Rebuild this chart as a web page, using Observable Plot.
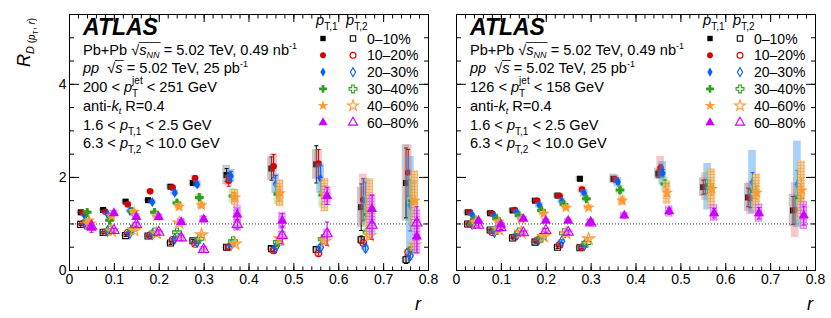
<!DOCTYPE html>
<html><head><meta charset="utf-8">
<script src="https://cdn.jsdelivr.net/npm/d3@7"></script>
<script src="https://cdn.jsdelivr.net/npm/@observablehq/plot@0.6"></script>
<style>
body{margin:0;background:#fff;}
#wrap{position:relative;width:831px;height:318px;overflow:hidden;background:#fff;}
#wrap svg{position:absolute;top:0;}
</style></head><body><div id="wrap"></div>
<script>
// ---------------- data ----------------
const rBins = [0.025,0.075,0.125,0.175,0.225,0.275,0.35,0.45,0.55,0.65,0.75];
const centLabels = ["0–10%","10–20%","20–30%","30–40%","40–60%","60–80%"];
const xTicks = [0,0.1,0.2,0.3,0.4,0.5,0.6,0.7,0.8];
const xTickLabels = ["0","0.1","0.2","0.3","0.4","0.5","0.6","0.7","0.8"];
const yTicks = [0,2,4];
const yTickLabels = ["0","2","4"];

// Left panel: 200 < pT jet < 251 GeV
const L_pt1 = [
  [1.25,1.30,1.48,1.51,1.80,1.88,2.05,2.19,2.28,1.36,1.88],
  [1.24,1.26,1.42,1.70,1.78,1.98,1.93,2.24,2.30,1.52,2.10],
  [1.17,1.21,1.28,1.47,1.67,1.85,2.03,1.86,1.97,1.50,1.40],
  [1.25,1.08,1.27,1.25,1.45,1.57,1.60,1.64,1.62,1.20,1.50],
  [1.07,1.17,1.26,1.16,1.37,1.40,1.57,1.66,1.62,1.33,1.50],
  [0.92,1.23,1.15,1.15,1.04,1.10,1.20,1.07,1.60,1.32,0.73]];
const L_pt1_stat = [
  [0.02,0.02,0.03,0.03,0.04,0.05,0.14,0.25,0.40,0.50,0.75],
  [0.02,0.02,0.03,0.03,0.04,0.06,0.12,0.25,0.30,0.45,0.50],
  [0.02,0.02,0.03,0.03,0.04,0.05,0.10,0.18,0.28,0.40,0.55],
  [0.03,0.03,0.03,0.03,0.04,0.05,0.08,0.15,0.20,0.35,0.40],
  [0.03,0.03,0.03,0.03,0.04,0.05,0.08,0.15,0.20,0.30,0.40],
  [0.10,0.05,0.05,0.05,0.05,0.05,0.12,0.15,0.18,0.30,0.35]];
const L_pt1_sys = [
  [0.03,0.03,0.04,0.04,0.05,0.06,0.21,0.25,0.32,0.43,0.82],
  [0.03,0.03,0.04,0.04,0.05,0.06,0.12,0.27,0.30,0.55,0.60],
  [0.03,0.03,0.04,0.05,0.06,0.08,0.14,0.21,0.32,0.48,1.05],
  [0.04,0.04,0.04,0.05,0.06,0.07,0.16,0.22,0.28,0.40,0.55],
  [0.04,0.04,0.05,0.05,0.07,0.07,0.17,0.29,0.36,0.64,0.64],
  [0.06,0.06,0.07,0.07,0.08,0.08,0.20,0.18,0.20,0.32,0.39]];
const L_pt2 = [
  [0.99,0.82,0.75,0.74,0.59,0.64,0.50,0.47,0.45,0.66,0.23],
  [1.00,0.82,0.81,0.76,0.66,0.57,0.50,0.43,0.37,0.59,0.39],
  [1.00,0.85,0.80,0.78,0.68,0.61,0.55,0.50,0.50,0.48,0.32],
  [1.06,0.86,0.88,0.82,0.82,0.68,0.63,0.61,0.67,0.82,0.47],
  [1.00,0.85,0.86,0.80,1.02,0.77,0.57,0.68,0.63,0.75,0.55],
  [0.95,0.86,0.99,0.82,0.70,0.45,0.99,0.75,0.79,0.97,1.02]];
const L_pt2_stat = [
  [0.02,0.02,0.02,0.02,0.03,0.03,0.04,0.05,0.06,0.08,0.08],
  [0.02,0.02,0.02,0.02,0.03,0.03,0.04,0.05,0.06,0.08,0.08],
  [0.02,0.02,0.02,0.02,0.03,0.03,0.04,0.05,0.06,0.08,0.08],
  [0.02,0.02,0.02,0.02,0.03,0.03,0.04,0.05,0.06,0.08,0.08],
  [0.02,0.02,0.02,0.02,0.03,0.03,0.04,0.05,0.06,0.08,0.08],
  [0.05,0.05,0.05,0.05,0.06,0.06,0.10,0.20,0.25,0.30,0.35]];
const L_pt2_sys = [
  [0.02,0.02,0.02,0.03,0.03,0.03,0.04,0.04,0.05,0.06,0.06],
  [0.02,0.02,0.02,0.03,0.03,0.03,0.04,0.04,0.05,0.06,0.06],
  [0.02,0.02,0.02,0.03,0.03,0.03,0.04,0.04,0.05,0.06,0.06],
  [0.02,0.02,0.02,0.03,0.03,0.03,0.04,0.04,0.05,0.06,0.06],
  [0.02,0.02,0.02,0.03,0.03,0.03,0.04,0.04,0.05,0.06,0.06],
  [0.05,0.05,0.05,0.05,0.06,0.07,0.15,0.10,0.10,0.20,0.30]];

// Right panel: 126 < pT jet < 158 GeV
const R_pt1 = [
  [1.25,1.23,1.29,1.50,1.61,1.97,1.97,2.08,1.79,1.57,1.29],
  [1.25,1.22,1.30,1.50,1.60,1.74,1.95,2.20,1.80,1.55,1.30],
  [1.20,1.17,1.25,1.40,1.49,1.66,1.90,2.09,1.80,1.90,1.85],
  [1.10,1.11,1.18,1.29,1.42,1.54,1.73,1.86,1.83,1.70,1.56],
  [1.05,1.05,1.10,1.22,1.35,1.35,1.50,1.67,1.75,1.67,1.72],
  [1.07,0.99,1.11,1.07,1.07,1.04,1.18,1.27,1.23,1.23,1.18]];
const R_pt1_stat = [
  [0.02,0.02,0.02,0.03,0.03,0.04,0.05,0.08,0.15,0.20,0.30],
  [0.02,0.02,0.02,0.03,0.03,0.04,0.05,0.08,0.15,0.20,0.30],
  [0.02,0.02,0.02,0.03,0.03,0.04,0.05,0.08,0.15,0.20,0.30],
  [0.02,0.02,0.02,0.03,0.03,0.04,0.05,0.08,0.12,0.15,0.25],
  [0.02,0.02,0.02,0.03,0.03,0.04,0.05,0.08,0.12,0.15,0.25],
  [0.03,0.03,0.03,0.03,0.03,0.04,0.05,0.06,0.10,0.12,0.20]];
const R_pt1_sys = [
  [0.04,0.04,0.04,0.05,0.05,0.06,0.10,0.12,0.20,0.30,0.35],
  [0.04,0.04,0.04,0.05,0.06,0.08,0.10,0.25,0.30,0.35,0.59],
  [0.04,0.04,0.05,0.06,0.06,0.08,0.10,0.25,0.50,0.68,0.93],
  [0.04,0.04,0.05,0.05,0.06,0.07,0.10,0.15,0.35,0.35,0.60],
  [0.04,0.04,0.05,0.05,0.06,0.06,0.10,0.25,0.43,0.40,0.63],
  [0.04,0.05,0.05,0.05,0.06,0.07,0.07,0.12,0.18,0.20,0.30]];
const R_pt2 = [
  [1.00,0.87,0.70,0.61,0.50,0.49],
  [1.00,0.82,0.72,0.65,0.55,0.50],
  [1.00,0.82,0.77,0.68,0.63,0.54],
  [1.00,0.87,0.82,0.70,0.80,0.59],
  [1.02,0.88,0.82,0.73,0.80,0.68],
  [0.97,0.92,0.81,0.86,0.82,1.02]];
const R_pt2_stat = [
  [0.02,0.02,0.02,0.02,0.03,0.03],
  [0.02,0.02,0.02,0.02,0.03,0.03],
  [0.02,0.02,0.02,0.02,0.03,0.03],
  [0.02,0.02,0.02,0.02,0.03,0.03],
  [0.02,0.02,0.02,0.02,0.03,0.03],
  [0.04,0.04,0.04,0.04,0.05,0.05]];
const R_pt2_sys = [
  [0.03,0.03,0.03,0.03,0.03,0.03],
  [0.03,0.03,0.03,0.03,0.03,0.03],
  [0.03,0.03,0.03,0.03,0.03,0.03],
  [0.03,0.03,0.03,0.03,0.03,0.03],
  [0.03,0.03,0.03,0.03,0.03,0.03],
  [0.05,0.05,0.05,0.06,0.06,0.07]];

// ---------------- style ----------------
const FONT = "'Liberation Sans', Arial, Helvetica, sans-serif";
const offsets = [0,0.0048,0.0096,0.0144,0.0192,0.024];
const symbols = ["square","circle","diamond","cross","star","triangle"];
const d3Syms = [d3.symbolSquare,d3.symbolCircle,d3.symbolDiamond,d3.symbolCross,d3.symbolStar,d3.symbolTriangle];
const symR = [3.4,3.3,3.1,3.7,3.8,3.8];
const colors = ["#000000","#d40000","#0a5cff","#2d9e1f","#ff9933","#cc00ff"];
const boxFill = ["#8a8a8a","#f08585","#3e97f0","#85de73","url(#hatchO)","url(#hatchM)"];
const boxOp = [0.45,0.45,0.45,0.45,0.8,0.8];
const boxHW = 0.0085;

function rows(vals, stat, sys) {
  const out = [];
  vals.forEach((arr, c) => arr.forEach((v, i) =>
    out.push({r: rBins[i] + offsets[c], v, e: stat[c][i], s: sys[c][i], c})));
  return out;
}

const capSym = {draw(ctx, size){ const w = Math.sqrt(size/Math.PI); ctx.moveTo(-w,0); ctx.lineTo(w,0);} };

function makePanel({width, marginLeft, marginRight, d1, d2, yLabels}) {
  const marks = [];
  for (let c = 0; c < 6; c++) {
    for (const data of [d1, d2]) {
      const dd = data.filter(d => d.c === c);
      marks.push(Plot.rect(dd, {x1: d => d.r - boxHW, x2: d => d.r + boxHW, y1: d => d.v - d.s, y2: d => d.v + d.s,
        fill: boxFill[c], fillOpacity: boxOp[c]}));
    }
    for (const [data, open] of [[d1,false],[d2,true]]) {
      const dd = data.filter(d => d.c === c);
      marks.push(Plot.ruleX(dd, {x: "r", y1: d => d.v - d.e, y2: d => d.v + d.e, stroke: colors[c], strokeWidth: 1}));
      marks.push(Plot.dot(dd, {x: "r", y: d => d.v + d.e, symbol: capSym, r: 2, stroke: colors[c], fill: "none", strokeWidth: 1}));
      marks.push(Plot.dot(dd, {x: "r", y: d => d.v - d.e, symbol: capSym, r: 2, stroke: colors[c], fill: "none", strokeWidth: 1}));
      marks.push(Plot.dot(dd, open
        ? {x: "r", y: "v", symbol: symbols[c], r: symR[c], fill: "none", stroke: colors[c], strokeWidth: 1.1}
        : {x: "r", y: "v", symbol: symbols[c], r: symR[c], fill: colors[c], stroke: "none"}));
    }
  }
  marks.unshift(Plot.ruleY([1], {stroke: "#333", strokeDasharray: "1,2", strokeWidth: 1}));
  const xMinor = d3.ticks(0, 0.8, 40);
  const yMinor = d3.range(0, 5.51, 0.5);
  const blank = () => "";
  marks.push(
    Plot.axisX({anchor: "bottom", ticks: xTicks, tickSize: -7, tickFormat: blank, label: null}),
    Plot.axisX({anchor: "bottom", ticks: xMinor, tickSize: -3.5, tickFormat: blank, label: null}),
    Plot.axisX({anchor: "top", ticks: xTicks, tickSize: -7, tickFormat: blank, label: null}),
    Plot.axisX({anchor: "top", ticks: xMinor, tickSize: -3.5, tickFormat: blank, label: null}),
    Plot.axisY({anchor: "left", ticks: yTicks, tickSize: -10, tickFormat: blank, label: null}),
    Plot.axisY({anchor: "left", ticks: yMinor, tickSize: -5, tickFormat: blank, label: null}),
    Plot.axisY({anchor: "right", ticks: yTicks, tickSize: -10, tickFormat: blank, label: null}),
    Plot.axisY({anchor: "right", ticks: yMinor, tickSize: -5, tickFormat: blank, label: null}),
    Plot.axisX({anchor: "bottom", ticks: xTicks, tickSize: 0, tickPadding: 4, fontSize: 14,
      tickFormat: d => xTickLabels[xTicks.indexOf(d)], label: null})
  );
  if (yLabels) marks.push(Plot.axisY({anchor: "left", ticks: yTicks, tickSize: 0, tickPadding: 3, fontSize: 14,
      tickFormat: d => yTickLabels[yTicks.indexOf(d)], label: null}));
  marks.push(Plot.frame({stroke: "black", strokeWidth: 1}));
  return Plot.plot({
    width, height: 318, marginLeft, marginRight, marginTop: 14, marginBottom: 48,
    x: {domain: [0, 0.8]}, y: {domain: [0, 5.5]},
    style: {fontFamily: FONT, background: "transparent", color: "black"},
    marks
  });
}

const wrap = document.getElementById("wrap");
const left = makePanel({width: 440, marginLeft: 69, marginRight: 12,
  d1: rows(L_pt1, L_pt1_stat, L_pt1_sys), d2: rows(L_pt2, L_pt2_stat, L_pt2_sys), yLabels: true});
const right = makePanel({width: 391, marginLeft: 16, marginRight: 16,
  d1: rows(R_pt1, R_pt1_stat, R_pt1_sys), d2: rows(R_pt2, R_pt2_stat, R_pt2_sys), yLabels: false});
left.style.left = "0px"; right.style.left = "440px";
wrap.appendChild(left); wrap.appendChild(right);

// hatch patterns for the 40-60% and 60-80% systematic boxes
const defs = d3.select(left).insert("defs", ":first-child");
for (const [id, bg, ln] of [["hatchO", "#fbc890", "#f29a3c"], ["hatchM", "#eea6f7", "#d25cf0"]]) {
  const p = defs.append("pattern").attr("id", id).attr("patternUnits", "userSpaceOnUse").attr("width", 3).attr("height", 3);
  p.append("rect").attr("width", 3).attr("height", 3).attr("fill", bg);
  p.append("path").attr("d", "M0 0.5H3M0.5 0V3").attr("stroke", ln).attr("stroke-width", 0.8);
}

// ---------------- annotations ----------------
function addText(g, x, y, s, base) {
  return g.append("text").attr("x", x).attr("y", y + (s.dy || 0)).attr("text-anchor", "start")
    .attr("font-size", s.size || base).attr("font-style", s.it ? "italic" : null)
    .attr("font-weight", s.b ? "bold" : null).style("white-space", "pre").text(s.t);
}
function rich(svg, x, y, segs, base = 14.6) {
  const g = d3.select(svg).append("g").attr("font-family", FONT).attr("fill", "black").attr("text-anchor", "start");
  let cx = x, os = 0;
  for (const s of segs) {
    if (s.os) { os = cx; continue; }
    if (s.oe) { g.append("line").attr("x1", os - 0.5).attr("x2", cx + 1).attr("y1", y - s.h).attr("y2", y - s.h)
      .attr("stroke", "black").attr("stroke-width", 0.8); continue; }
    if (s.stack) {
      let w = 0;
      for (const t of s.stack) w = Math.max(w, addText(g, cx, y, t, base).node().getComputedTextLength());
      cx += w; continue;
    }
    cx += addText(g, cx, y, s, base).node().getComputedTextLength() + (s.dx || 0);
  }
  return g;
}

function annotate(svg, fx, jetRange) {
  rich(svg, fx + 14, 35, [{t: "ATLAS", b: true, it: true, size: 23}]);
  rich(svg, fx + 14, 55, [{t: "Pb+Pb "}, {t: "√"}, {os: 1}, {t: "s", it: true}, {t: "NN", it: true, size: 9, dy: 3}, {oe: 1, h: 12.5},
    {t: " = 5.02 TeV, 0.49 nb"}, {t: "-1", size: 9, dy: -6}]);
  rich(svg, fx + 14, 73, [{t: "pp", it: true}, {t: "  √"}, {os: 1}, {t: "s", it: true}, {oe: 1, h: 12.5},
    {t: " = 5.02 TeV, 25 pb"}, {t: "-1", size: 9, dy: -6}]);
  rich(svg, fx + 14, 92, [{t: jetRange[0] + " < "}, {t: "p", it: true},
    {stack: [{t: "jet", size: 10, dy: -8}, {t: "T", size: 10, dy: 5}]}, {t: " < " + jetRange[1] + " GeV"}]);
  rich(svg, fx + 14, 111, [{t: "anti-"}, {t: "k", it: true}, {t: "t", it: true, size: 9, dy: 3}, {t: " R=0.4"}]);
  rich(svg, fx + 14, 130, [{t: "1.6 < "}, {t: "p", it: true}, {t: "T,1", size: 10, dy: 5}, {t: " < 2.5 GeV"}]);
  rich(svg, fx + 14, 148, [{t: "6.3 < "}, {t: "p", it: true}, {t: "T,2", size: 10, dy: 5}, {t: " < 10.0 GeV"}]);
  // legend
  rich(svg, fx + 247, 25, [{t: "p", it: true}, {t: "T,1", size: 10, dy: 5}]);
  rich(svg, fx + 277, 25, [{t: "p", it: true}, {t: "T,2", size: 10, dy: 5}]);
  const g = d3.select(svg).append("g");
  centLabels.forEach((lab, c) => {
    const y = 38.5 + c * 16.8;
    const path = d3.symbol(d3Syms[c], Math.PI * symR[c] * symR[c] * 0.8)();
    g.append("path").attr("transform", `translate(${fx + 254},${y})`).attr("d", path).attr("fill", colors[c]);
    g.append("path").attr("transform", `translate(${fx + 284},${y})`).attr("d", path)
      .attr("fill", "none").attr("stroke", colors[c]).attr("stroke-width", 1.1);
    rich(svg, fx + 298, y + 5, [{t: lab}], 14);
  });
}
annotate(left, 69, ["200", "251"]);
annotate(right, 16, ["126", "158"]);

// axis titles
const yt = d3.select(left).append("text").attr("transform", "translate(30,67) rotate(-90)").attr("text-anchor", "start")
  .attr("font-family", FONT).attr("font-size", 18).attr("font-style", "italic").attr("fill", "black");
yt.append("tspan").text("R");
yt.append("tspan").attr("font-size", 11).attr("dy", 4).text("D");
yt.append("tspan").attr("font-size", 10).attr("font-style", "normal").attr("dy", 1).text(" (");
yt.append("tspan").attr("font-size", 10).text("p");
yt.append("tspan").attr("font-size", 7).attr("font-style", "normal").attr("dy", 3).text("T");
yt.append("tspan").attr("font-size", 10).attr("font-style", "normal").attr("dy", -3).text(", ");
yt.append("tspan").attr("font-size", 10).text("r");
yt.append("tspan").attr("font-size", 10).attr("font-style", "normal").text(")");
for (const [svg, x] of [[left, 418], [right, 370]]) {
  d3.select(svg).append("text").attr("x", x).attr("y", 310).attr("text-anchor", "middle")
    .attr("font-family", FONT).attr("font-size", 18).attr("font-style", "italic").attr("fill", "black").text("r");
}
</script></body></html>
